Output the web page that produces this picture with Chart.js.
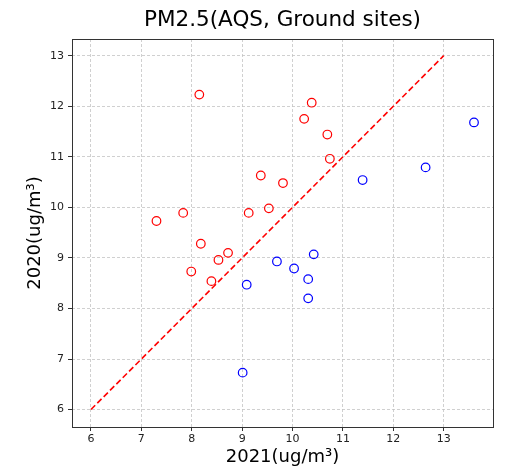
<!DOCTYPE html>
<html>
<head>
<meta charset="utf-8">
<script src="https://cdn.jsdelivr.net/npm/chart.js@4"></script>
<style>
html,body{margin:0;padding:0;background:#fff;}
#wrap{width:505px;height:469px;}
</style>
</head>
<body>
<div id="wrap"><canvas id="c" width="505" height="469"></canvas></div>
<script>
const titleText = "PM2.5(AQS, Ground sites)";
const xLabel = "2021(ug/m³)";
const yLabel = "2020(ug/m³)";
const xTicks = [6, 7, 8, 9, 10, 11, 12, 13];
const yTicks = [6, 7, 8, 9, 10, 11, 12, 13];

// Red series
const redX = [7.30, 7.83, 8.15, 8.18, 7.99, 8.39, 8.53, 8.72, 9.13, 9.37, 9.53, 9.81, 10.23, 10.38, 10.69, 10.74];
const redY = [9.73, 9.89, 12.23, 9.28, 8.73, 8.54, 8.96, 9.10, 9.89, 10.63, 9.98, 10.48, 11.75, 12.07, 11.44, 10.96];
// Blue series
const blueX = [9.01, 9.09, 9.69, 10.03, 10.31, 10.31, 10.42, 11.39, 12.64, 13.60];
const blueY = [6.73, 8.47, 8.93, 8.79, 8.58, 8.20, 9.07, 10.54, 10.79, 11.68];
// 1:1 line
const lineX = [6, 13];
const lineY = [6, 13];

const toPts = (xs, ys) => xs.map((x, i) => ({x: x, y: ys[i]}));

const framePlugin = {
  id: 'frame',
  afterLayout(chart) {
    const a = chart.chartArea;
    if (chart.titleBlock) {
      chart.titleBlock.left = a.left;
      chart.titleBlock.right = a.right;
    }
  },
  afterDraw(chart) {
    const a = chart.chartArea, ctx = chart.ctx;
    ctx.save();
    ctx.strokeStyle = '#333';
    ctx.lineWidth = 1;
    ctx.setLineDash([]);
    ctx.strokeRect(Math.round(a.left) + 0.5, Math.round(a.top) + 0.5, Math.round(a.right - a.left), Math.round(a.bottom - a.top));
    ctx.restore();
  }
};

const gridOpts = {
  color: '#c4c4c4',
  lineWidth: 0.8,
  drawTicks: true,
  tickLength: 4,
  tickColor: '#333',
  tickBorderDash: [],
  tickWidth: 1
};
const borderOpts = {display: false, dash: [3, 2]};

new Chart(document.getElementById('c'), {
  type: 'scatter',
  data: {
    datasets: [
      {
        type: 'line',
        data: toPts(lineX, lineY),
        borderColor: '#ff0000',
        borderWidth: 1.6,
        borderDash: [6, 3],
        pointRadius: 0,
        fill: false,
        showLine: true,
        order: 1
      },
      {
        data: toPts(redX, redY),
        borderColor: '#ff0000',
        backgroundColor: 'rgba(0,0,0,0)',
        pointRadius: 4.3,
        pointBorderWidth: 1.2,
        showLine: false,
        order: 2
      },
      {
        data: toPts(blueX, blueY),
        borderColor: '#0000ff',
        backgroundColor: 'rgba(0,0,0,0)',
        pointRadius: 4.3,
        pointBorderWidth: 1.2,
        showLine: false,
        order: 2
      }
    ]
  },
  options: {
    responsive: false,
    animation: false,
    layout: {padding: {left: 0, right: 12, top: 0, bottom: 0}},
    plugins: {
      legend: {display: false},
      tooltip: {enabled: false},
      title: {
        display: true,
        text: titleText,
        color: '#000',
        font: {family: 'DejaVu Sans', size: 21.5, weight: 'normal'},
        padding: {top: 8, bottom: 5.2}
      }
    },
    scales: {
      x: {
        type: 'linear',
        min: 5.624,
        max: 13.977,
        afterFit(s) { s.height = 42; },
        afterBuildTicks(s) { s.ticks = xTicks.map(v => ({value: v})); },
        ticks: {color: '#222', font: {family: 'DejaVu Sans', size: 11}, padding: 2, maxRotation: 0, autoSkip: false},
        grid: gridOpts,
        border: borderOpts,
        title: {display: true, text: xLabel, color: '#000', font: {family: 'DejaVu Sans', size: 18}, padding: {top: 0, bottom: 1}}
      },
      y: {
        type: 'linear',
        min: 5.655,
        max: 13.33,
        afterFit(s) { s.width = 72; },
        afterBuildTicks(s) { s.ticks = yTicks.map(v => ({value: v})); },
        ticks: {color: '#222', font: {family: 'DejaVu Sans', size: 11}, padding: 4, autoSkip: false},
        grid: gridOpts,
        border: borderOpts,
        title: {display: true, text: yLabel, color: '#000', font: {family: 'DejaVu Sans', size: 18}, padding: {top: 25, bottom: 0}}
      }
    }
  },
  plugins: [framePlugin]
});
</script>
</body>
</html>
